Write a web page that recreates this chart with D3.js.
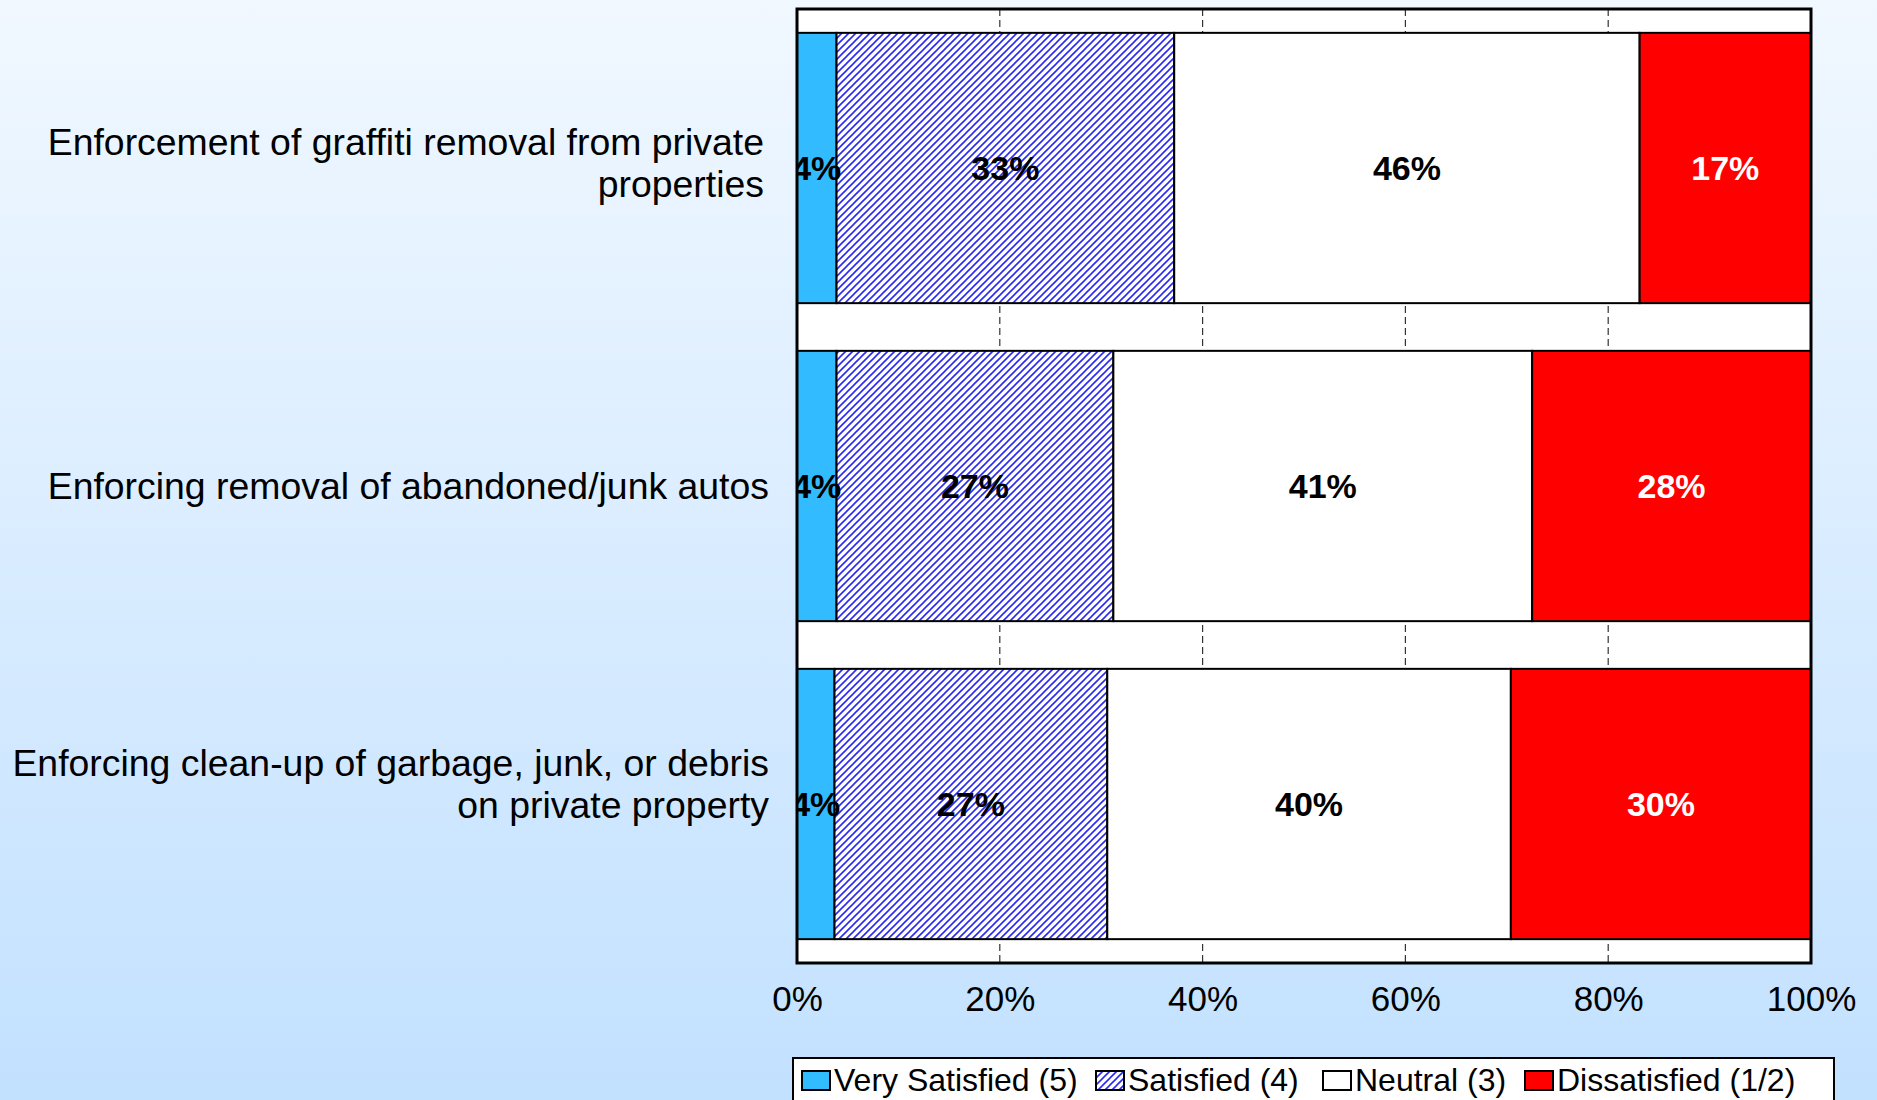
<!DOCTYPE html>
<html>
<head>
<meta charset="utf-8">
<script src="https://cdn.jsdelivr.net/npm/d3@7"></script>
<style>
    body { margin: 0; overflow: hidden; }
    svg { display: block; font-family: "Liberation Sans", Arial, sans-serif; }
</style>
</head>
<body>
<div id="chart"></div>
<script>
// data
const categories = ['graffiti', 'autos', 'garbage'];
const categoryLines = [
    ['Enforcement of graffiti removal from private', 'properties'],
    ['Enforcing removal of abandoned/junk autos'],
    ['Enforcing clean-up of garbage, junk, or debris', 'on private property']
];
const seriesNames = ['Very Satisfied (5)', 'Satisfied (4)', 'Neutral (3)', 'Dissatisfied (1/2)'];
const verySatisfied = [3.9, 3.9, 3.7];
const satisfied = [33.3, 27.3, 26.9];
const neutral = [45.9, 41.3, 39.8];
const dissatisfied = [16.9, 27.5, 29.6];
const xTicks = [0, 20, 40, 60, 80, 100];

const width = 1877;
const height = 1100;
const plot = { left: 797, right: 1811, top: 9, bottom: 963 };

const fills = ['#33BBFF', 'url(#hatch)', '#FFFFFF', '#FF0000'];
const labelColors = ['#000', '#000', '#000', '#fff'];
// label placement tweaks (as in the source layout)
const catLabelShift = [-5, 0, -20];
const catLabelRight = [764, 769, 769];

const svg = d3.select('#chart')
    .append('svg')
    .attr('width', width)
    .attr('height', height);

const defs = svg.append('defs');

const grad = defs.append('linearGradient')
    .attr('id', 'bg')
    .attr('x1', 0).attr('y1', 0)
    .attr('x2', 0).attr('y2', 1);
grad.append('stop').attr('offset', '0%').attr('stop-color', '#F1F8FF');
grad.append('stop').attr('offset', '100%').attr('stop-color', '#C2E1FF');

const hatch = defs.append('pattern')
    .attr('id', 'hatch')
    .attr('patternUnits', 'userSpaceOnUse')
    .attr('width', 7)
    .attr('height', 7);
hatch.append('rect').attr('width', 7).attr('height', 7).attr('fill', '#fff');
hatch.append('path')
    .attr('d', 'M-1,8 L8,-1 M-1,1 L1,-1 M6,8 L8,6')
    .attr('stroke', '#2B2BF0')
    .attr('stroke-width', 1.6);

defs.append('clipPath')
    .attr('id', 'plotClip')
    .append('rect')
    .attr('x', plot.left)
    .attr('y', plot.top)
    .attr('width', plot.right - plot.left)
    .attr('height', plot.bottom - plot.top);

svg.append('rect')
    .attr('width', width)
    .attr('height', height)
    .attr('fill', 'url(#bg)');

const x = d3.scaleLinear()
    .domain([0, 100])
    .range([plot.left, plot.right]);

const y = d3.scaleBand()
    .domain(categories)
    .range([plot.top, plot.bottom])
    .paddingInner(0.15)
    .paddingOuter(0.075);

// plot area
svg.append('rect')
    .attr('x', plot.left)
    .attr('y', plot.top)
    .attr('width', plot.right - plot.left)
    .attr('height', plot.bottom - plot.top)
    .attr('fill', '#fff');

svg.append('g')
    .selectAll('line')
    .data(xTicks.slice(1, -1))
    .enter()
    .append('line')
    .attr('x1', d => x(d))
    .attr('x2', d => x(d))
    .attr('y1', plot.top)
    .attr('y2', plot.bottom)
    .attr('stroke', '#333')
    .attr('stroke-width', 1.2)
    .attr('stroke-dasharray', '7,4');

// stacked bars
const series = [verySatisfied, satisfied, neutral, dissatisfied];
const rows = categories.map((c, i) => {
    let acc = 0;
    return series.map((s, k) => {
        const seg = { cat: c, k: k, x0: acc, x1: acc + s[i], v: s[i] };
        acc += s[i];
        return seg;
    });
});
const segments = rows.flat();

const barLayer = svg.append('g').attr('clip-path', 'url(#plotClip)');

barLayer.selectAll('rect')
    .data(segments)
    .enter()
    .append('rect')
    .attr('x', d => x(d.x0))
    .attr('y', d => y(d.cat))
    .attr('width', d => x(d.x1) - x(d.x0))
    .attr('height', y.bandwidth())
    .attr('fill', d => fills[d.k])
    .attr('stroke', '#000')
    .attr('stroke-width', 2);

barLayer.selectAll('text')
    .data(segments)
    .enter()
    .append('text')
    .attr('x', d => x((d.x0 + d.x1) / 2))
    .attr('y', d => y(d.cat) + y.bandwidth() / 2)
    .attr('dy', '0.36em')
    .attr('text-anchor', 'middle')
    .attr('font-size', 34)
    .attr('font-weight', 'bold')
    .attr('fill', d => labelColors[d.k])
    .text(d => `${Math.round(d.v)}%`);

svg.append('rect')
    .attr('x', plot.left)
    .attr('y', plot.top)
    .attr('width', plot.right - plot.left)
    .attr('height', plot.bottom - plot.top)
    .attr('fill', 'none')
    .attr('stroke', '#000')
    .attr('stroke-width', 3);

// x axis labels
const xAxis = d3.axisBottom(x)
    .tickValues(xTicks)
    .tickSize(0)
    .tickPadding(0)
    .tickFormat(d => `${d}%`);

const xg = svg.append('g')
    .attr('transform', `translate(0, ${plot.bottom})`)
    .call(xAxis);
xg.select('.domain').remove();
xg.selectAll('text')
    .attr('y', 48)
    .attr('dy', 0)
    .attr('font-size', 35)
    .attr('font-family', '"Liberation Sans", Arial, sans-serif')
    .attr('fill', '#000');

// category labels
const catLabels = svg.append('g');
categories.forEach((c, i) => {
    const lines = categoryLines[i];
    const cy = y(c) + y.bandwidth() / 2 + catLabelShift[i];
    const lineH = 42;
    const t = catLabels.append('text')
        .attr('text-anchor', 'end')
        .attr('font-size', 37.4)
        .attr('fill', '#000');
    lines.forEach((ln, j) => {
        t.append('tspan')
            .attr('x', catLabelRight[i])
            .attr('y', cy + (j - (lines.length - 1) / 2) * lineH)
            .attr('dy', '0.36em')
            .text(ln);
    });
});

// legend
const legend = svg.append('g');
legend.append('rect')
    .attr('x', 793)
    .attr('y', 1058)
    .attr('width', 1041)
    .attr('height', 60)
    .attr('fill', '#fff')
    .attr('stroke', '#000')
    .attr('stroke-width', 2);

const legendX = [802, 1096, 1323, 1525];
const items = legend.selectAll('g.item')
    .data(seriesNames)
    .enter()
    .append('g')
    .attr('class', 'item')
    .attr('transform', (d, i) => `translate(${legendX[i]}, 1071)`);

items.append('rect')
    .attr('width', 28)
    .attr('height', 19)
    .attr('fill', (d, i) => fills[i])
    .attr('stroke', '#000')
    .attr('stroke-width', 2);

items.append('text')
    .attr('x', 32)
    .attr('y', 20)
    .attr('font-size', 32)
    .attr('fill', '#000')
    .text(d => d);
</script>
</body>
</html>
